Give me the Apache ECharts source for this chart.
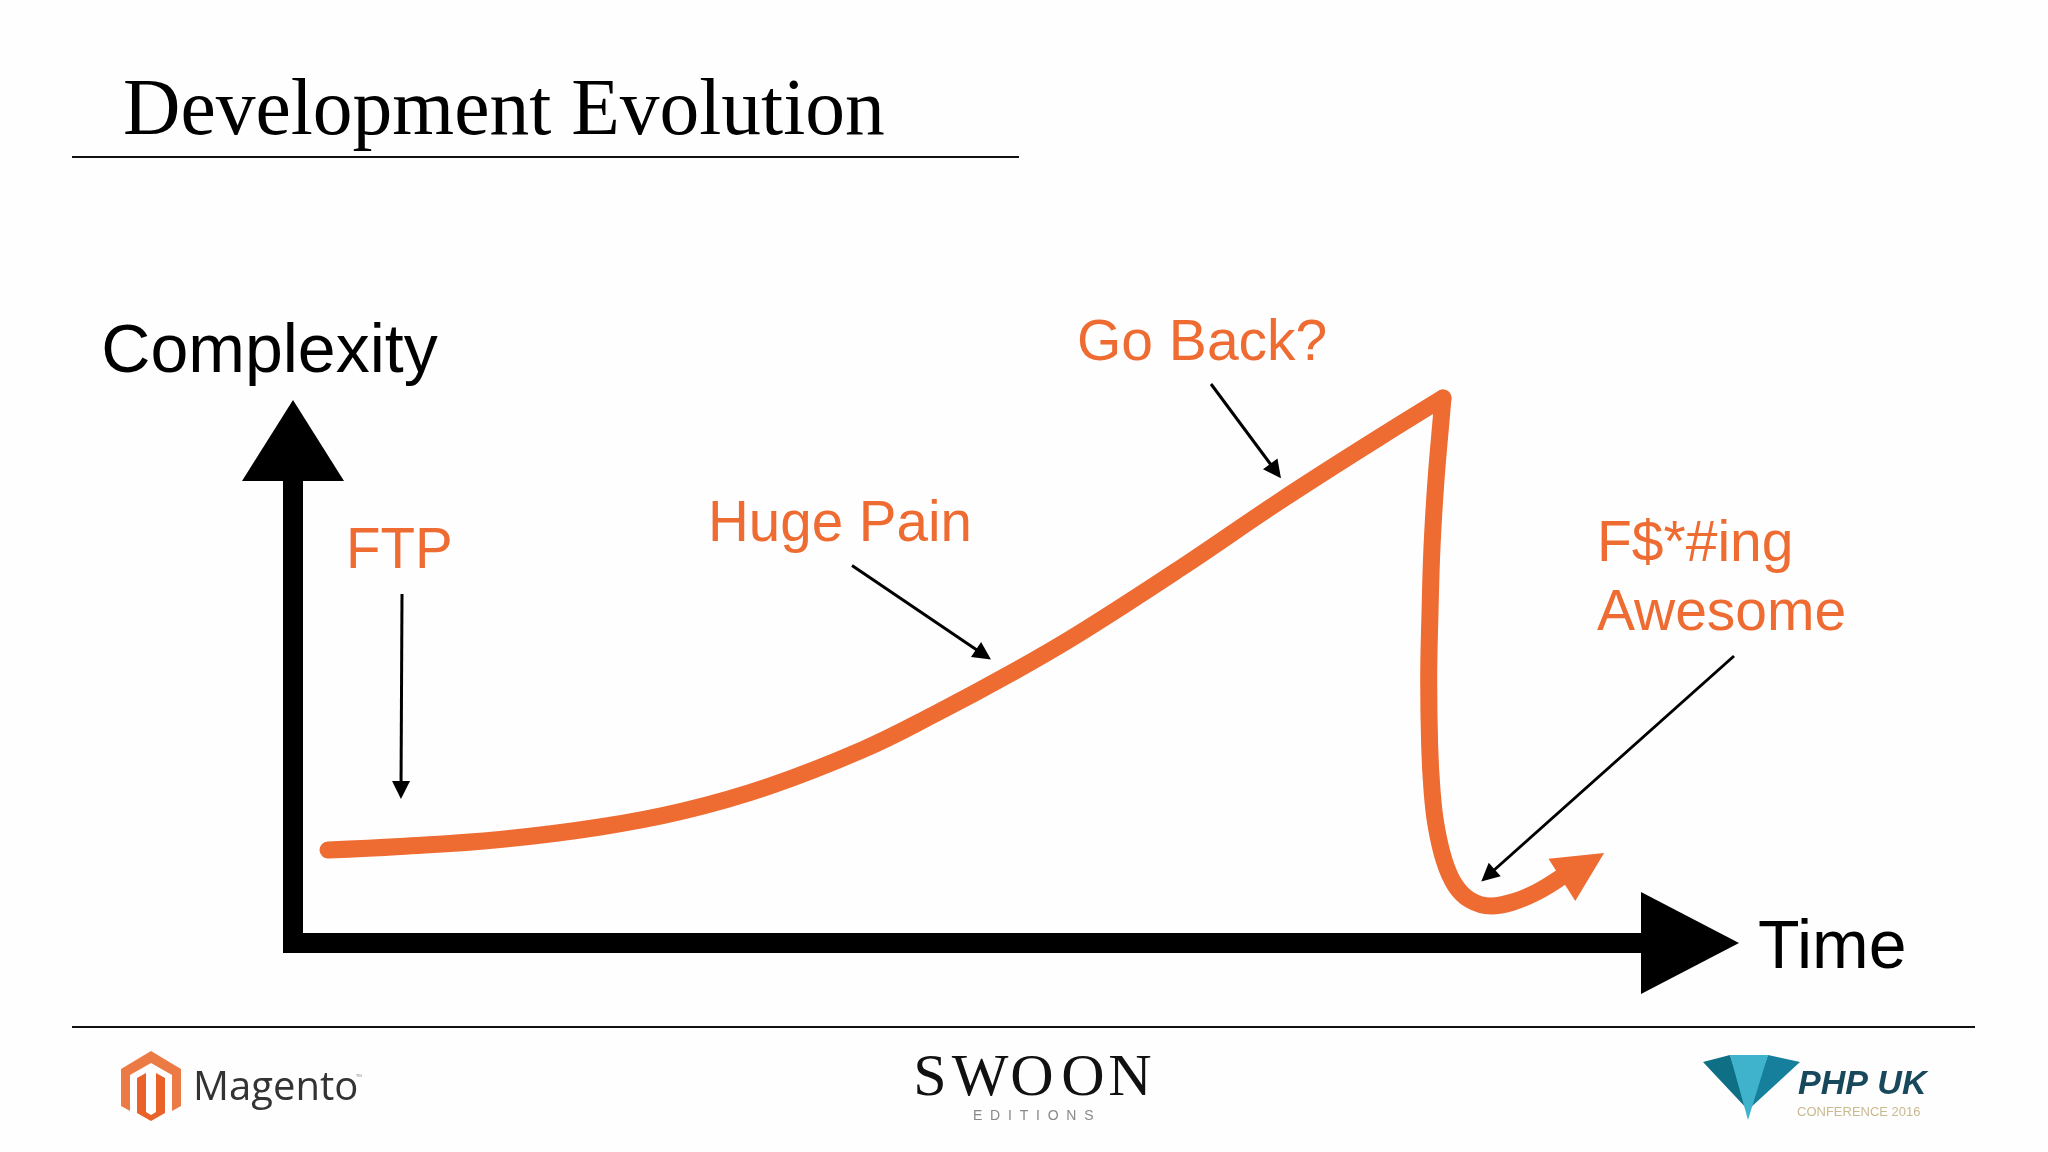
<!DOCTYPE html>
<html lang="en">

<head>
  <meta charset="utf-8" />
  <title>Development Evolution</title>
  <script src="https://cdn.jsdelivr.net/npm/echarts@6/dist/echarts.min.js"></script>
  <style>
    * {
      margin: 0;
      padding: 0;
    }

    #chart-container {
      position: relative;
      width: 2048px;
      height: 1152px;
      overflow: hidden;
      background: #fefefe;
    }
  </style>
</head>

<body>
  <div id="chart-container"></div>

  <script>
    // curve: time / complexity, rising part then the drop
    const riseTime = [3.5, 10.7, 20.7, 30.7, 39, 47.4, 56.9, 64, 72.2, 78.7, 88.7, 98.7, 108.7, 115]
    const riseComplexity = [18.6, 19.3, 20.7, 23.2, 26.4, 31.2, 38.6, 45.6, 54.4, 62, 74.9, 88.4, 101.2, 109]
    const dropTime = [115, 114.87, 114.3, 113.9, 113.7, 113.57, 113.67, 113.9, 114.3, 115.1, 116.2, 117.7, 119.8, 122, 124.4, 126.7]
    const dropComplexity = [109, 106, 92.6, 79.2, 66, 52.6, 39.2, 30.6, 23.6, 16.6, 11.6, 8.6, 7.4, 8.2, 10.2, 13]

    // thin callout arrows, from [time, complexity] to [time, complexity]
    const ftpArrow = [[10.9, 69.8], [10.8, 30.6]]
    const hugePainArrow = [[55.9, 75.5], [69.05, 57.7]]
    const goBackArrow = [[91.8, 111.8], [98.26, 94.4]]
    const awesomeArrow = [[144.1, 57.4], [119.5, 13.5]]
    const curveArrowHead = [129, 15.3]

    const titleText = "Development Evolution"
    const xName = "Time"
    const yName = "Complexity"
    const swoonLetters = ["S", "W", "O", "O", "N"]
    const swoonCentres = [930, 980, 1032, 1083, 1130]

    const ORANGE = "#ee6b32"

    const text = (str, x, y, font, fill) => ({
      type: "text",
      x,
      y,
      silent: true,
      style: { text: str, font, fill, align: "left", verticalAlign: "middle" },
    })
    const rule = (x1, x2, y) => ({
      type: "line",
      silent: true,
      shape: { x1, y1: y, x2, y2: y },
      style: { stroke: "#111", lineWidth: 2 },
    })
    const poly = (points, fill) => ({
      type: "polygon",
      silent: true,
      shape: { points },
      style: { fill },
    })

    const sans = (size) => `${size}px "Liberation Sans"`

    var dom = document.getElementById("chart-container");
    var myChart = echarts.init(dom, null, { renderer: "canvas" });

    var option = {
      animation: false,
      grid: [
        // visible axes, they end in the centre of the arrow heads
        { left: 293, top: 443, width: 1400, height: 500 },
        // same scale, larger range, carries the curve and callouts
        { left: 293, top: 193, width: 1600, height: 750 },
      ],
      xAxis: [
        {
          type: "value",
          gridIndex: 0,
          min: 0,
          max: 140,
          name: xName,
          nameLocation: "end",
          nameGap: 65,
          nameTextStyle: {
            color: "#000",
            fontSize: 68,
            fontFamily: "Liberation Sans",
            verticalAlign: "top",
            lineHeight: 12,
          },
          axisLine: {
            onZero: false,
            symbol: ["none", "triangle"],
            symbolSize: [102, 98],
            symbolOffset: [0, -3],
            lineStyle: { color: "#000", width: 20, cap: "square" },
          },
          axisTick: { show: false },
          axisLabel: { show: false },
          splitLine: { show: false },
        },
        { type: "value", gridIndex: 1, min: 0, max: 160, show: false },
      ],
      yAxis: [
        {
          type: "value",
          gridIndex: 0,
          min: 0,
          max: 100,
          name: yName,
          nameLocation: "end",
          nameGap: 56,
          nameTextStyle: {
            color: "#000",
            fontSize: 68,
            fontFamily: "Liberation Sans",
            padding: [0, 47, 0, 0],
          },
          axisLine: {
            onZero: false,
            symbol: ["none", "triangle"],
            symbolSize: [102, 81],
            symbolOffset: [0, 2.5],
            lineStyle: { color: "#000", width: 20, cap: "square" },
          },
          axisTick: { show: false },
          axisLabel: { show: false },
          splitLine: { show: false },
        },
        { type: "value", gridIndex: 1, min: 0, max: 150, show: false },
      ],
      series: [
        {
          type: "line",
          name: "rise",
          xAxisIndex: 1,
          yAxisIndex: 1,
          clip: false,
          silent: true,
          smooth: 0.4,
          symbol: "none",
          lineStyle: { color: ORANGE, width: 17, cap: "round", join: "round" },
          data: riseTime.map((t, i) => [t, riseComplexity[i]]),
          markLine: {
            silent: true,
            symbol: ["none", "triangle"],
            symbolSize: 18,
            label: { show: false },
            lineStyle: { color: "#000", width: 3, type: "solid" },
            data: [ftpArrow, hugePainArrow, goBackArrow, awesomeArrow].map((a) => [
              { coord: a[0] },
              { coord: a[1] },
            ]),
          },
        },
        {
          type: "line",
          name: "drop",
          xAxisIndex: 1,
          yAxisIndex: 1,
          clip: false,
          silent: true,
          smooth: 0.4,
          symbol: "none",
          lineStyle: { color: ORANGE, width: 17, cap: "round", join: "round" },
          data: dropTime.map((t, i) => [t, dropComplexity[i]]),
          markPoint: {
            silent: true,
            label: { show: false },
            itemStyle: { color: ORANGE },
            data: [
              { coord: curveArrowHead, symbol: "triangle", symbolSize: [50, 50], symbolRotate: -57.6 },
            ],
          },
        },
      ],
      graphic: [
        text(titleText, 123, 113, '79.5px "Liberation Serif"', "#000"),
        rule(72, 1019, 157),
        rule(72, 1975, 1027),

        text("FTP", 346, 552, sans(56.5), ORANGE),
        text("Huge Pain", 708, 525, sans(56.5), ORANGE),
        text("Go Back?", 1077, 344, sans(57), ORANGE),
        text("F$*#ing", 1597, 545, sans(57), ORANGE),
        text("Awesome", 1597, 614, sans(57), ORANGE),

        // Magento logo
        poly([[151, 1051], [181, 1069], [181, 1106], [172, 1111], [172, 1075], [151, 1063], [130, 1075], [130, 1111], [121, 1106], [121, 1069]], "#ec7a45"),
        poly([[137, 1078], [146, 1073], [146, 1112], [151, 1115], [156, 1112], [156, 1073], [165, 1078], [165, 1113], [151, 1121], [137, 1113]], "#e8622a"),
        text("Magento", 193, 1089, '40px "Open Sans"', "#333"),
        text("™", 356, 1078, '8px "Open Sans"', "#999"),

        // Swoon logo
        ...swoonLetters.map((l, i) => ({
          type: "text",
          x: swoonCentres[i],
          y: 1079,
          silent: true,
          style: { text: l, font: '60px "Liberation Serif"', fill: "#111", align: "center", verticalAlign: "middle" },
        })),
        text("E  D  I  T  I  O  N  S", 973, 1116, sans(14), "#888"),

        // PHP UK logo
        poly([[1703, 1062], [1730, 1055], [1748, 1110]], "#0f6f85"),
        poly([[1768, 1055], [1800, 1062], [1748, 1110]], "#16809c"),
        poly([[1730, 1055], [1768, 1055], [1748, 1120]], "#3fb3cc"),
        text("PHP UK", 1798, 1085, 'italic bold 34px "Liberation Sans"', "#17485c"),
        text("CONFERENCE 2016", 1797, 1112, sans(13), "#c9b98f"),
      ],
    };

    myChart.setOption(option);
  </script>
</body>

</html>
